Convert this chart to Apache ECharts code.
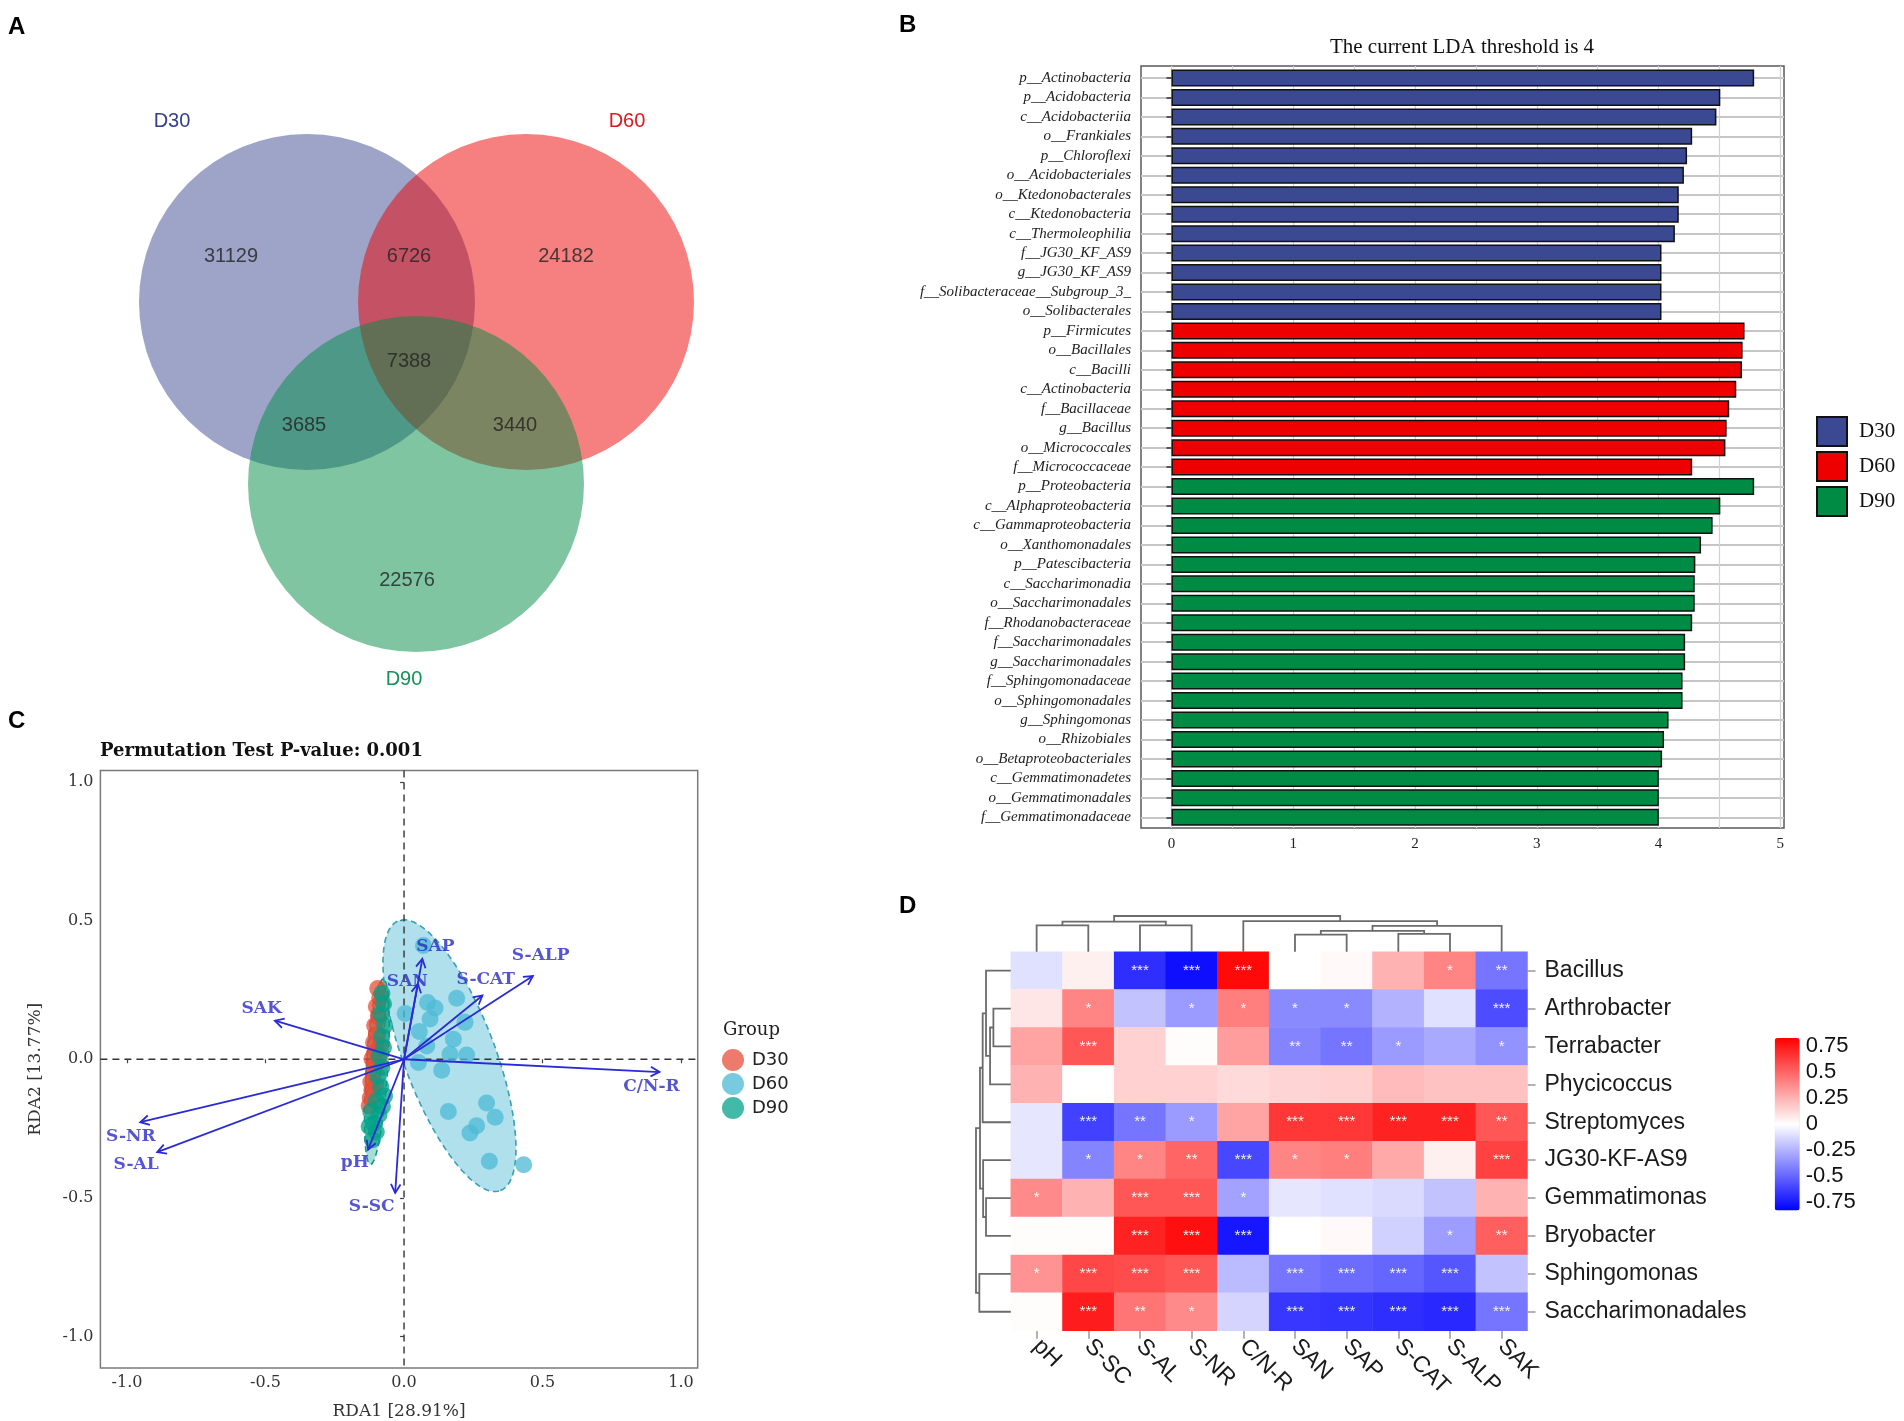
<!DOCTYPE html>
<html><head><meta charset="utf-8">
<script src="https://cdn.jsdelivr.net/npm/echarts@6/dist/echarts.min.js"></script>
<style>html,body{margin:0;padding:0;background:#fff}#main{width:1904px;height:1421px}</style>
</head><body><div id="main"></div>
<script>
// ================= DATA =================
// Panel A: Venn
const vennSets = ['D30', 'D60', 'D90'];
const vennCounts = [31129, 6726, 24182, 7388, 3685, 3440, 22576]; // D30 only, D30&D60, D60 only, all, D30&D90, D60&D90, D90 only

// Panel B: LEfSe
const ldaTaxa = ['p__Actinobacteria','p__Acidobacteria','c__Acidobacteriia','o__Frankiales','p__Chloroflexi','o__Acidobacteriales','o__Ktedonobacterales','c__Ktedonobacteria','c__Thermoleophilia','f__JG30_KF_AS9','g__JG30_KF_AS9','f__Solibacteraceae__Subgroup_3_','o__Solibacterales',
  'p__Firmicutes','o__Bacillales','c__Bacilli','c__Actinobacteria','f__Bacillaceae','g__Bacillus','o__Micrococcales','f__Micrococcaceae',
  'p__Proteobacteria','c__Alphaproteobacteria','c__Gammaproteobacteria','o__Xanthomonadales','p__Patescibacteria','c__Saccharimonadia','o__Saccharimonadales','f__Rhodanobacteraceae','f__Saccharimonadales','g__Saccharimonadales','f__Sphingomonadaceae','o__Sphingomonadales','g__Sphingomonas','o__Rhizobiales','o__Betaproteobacteriales','c__Gemmatimonadetes','o__Gemmatimonadales','f__Gemmatimonadaceae'];
const ldaGroup = ['D30','D30','D30','D30','D30','D30','D30','D30','D30','D30','D30','D30','D30',
  'D60','D60','D60','D60','D60','D60','D60','D60',
  'D90','D90','D90','D90','D90','D90','D90','D90','D90','D90','D90','D90','D90','D90','D90','D90','D90','D90'];
const ldaScore = [4.785,4.507,4.475,4.276,4.234,4.208,4.166,4.166,4.134,4.024,4.024,4.024,4.024,
  4.706,4.690,4.685,4.638,4.580,4.559,4.549,4.276,
  4.785,4.507,4.444,4.349,4.302,4.297,4.297,4.276,4.218,4.218,4.197,4.197,4.082,4.045,4.029,4.002,4.002,4.002];
const ldaTicks = [0, 1, 2, 3, 4, 5];

// Panel C: RDA
const rdaD30 = [[-0.095,0.255],[-0.088,0.222],[-0.100,0.190],[-0.092,0.152],[-0.106,0.122],[-0.096,0.090],[-0.110,0.060],[-0.100,0.030],[-0.116,0.002],[-0.104,-0.022],[-0.112,-0.052],[-0.120,-0.082],[-0.116,-0.112],[-0.122,-0.140],[-0.126,-0.168],[-0.090,0.004],[-0.086,0.050],[-0.102,-0.090]];
const rdaD60 = [[0.070,0.410],[0.085,0.205],[0.112,0.185],[0.190,0.220],[0.004,0.165],[0.094,0.145],[0.220,0.133],[0.055,0.100],[0.178,0.072],[0.082,0.048],[0.166,0.018],[0.226,0.015],[0.052,-0.012],[0.136,-0.040],[0.160,-0.188],[0.298,-0.158],[0.329,-0.209],[0.262,-0.240],[0.238,-0.266],[0.308,-0.368],[0.432,-0.380]];
const rdaD90 = [[-0.080,0.238],[-0.074,0.200],[-0.084,0.162],[-0.070,0.122],[-0.080,0.082],[-0.074,0.042],[-0.090,0.012],[-0.080,-0.030],[-0.094,-0.062],[-0.084,-0.100],[-0.070,-0.132],[-0.100,-0.150],[-0.120,-0.188],[-0.090,-0.200],[-0.110,-0.232],[-0.126,-0.242],[-0.100,-0.262],[-0.114,-0.290],[-0.078,-0.170]];
// confidence ellipses: [cx, cy, semi-major, semi-minor, angle deg]
const ellD30 = [-0.103, 0.052, 0.225, 0.028, 85];
const ellD60 = [0.164, 0.013, 0.52, 0.165, -69.3];
const ellD90 = [-0.098, -0.045, 0.335, 0.038, 86];
const envNames = ['SAK','S-NR','S-AL','pH','S-SC','C/N-R','S-ALP','S-CAT','SAP','SAN'];
const envVectors = [[-0.466,0.139],[-0.952,-0.227],[-0.891,-0.335],[-0.130,-0.326],[-0.032,-0.482],[0.922,-0.046],[0.465,0.300],[0.283,0.230],[0.066,0.362],[0.050,0.272]];
const rdaTicks = [-1, -0.5, 0, 0.5, 1];

// Panel D: correlation heatmap
const heatCols = ['pH','S-SC','S-AL','S-NR','C/N-R','SAN','SAP','S-CAT','S-ALP','SAK'];
const heatRows = ['Bacillus','Arthrobacter','Terrabacter','Phycicoccus','Streptomyces','JG30-KF-AS9','Gemmatimonas','Bryobacter','Sphingomonas','Saccharimonadales'];
const heatValues = [
  [-0.10, 0.05, -0.68, -0.78, 0.80, 0.00, 0.02, 0.25, 0.40, -0.45],
  [0.08, 0.40, -0.20, -0.33, 0.42, -0.38, -0.38, -0.25, -0.10, -0.58],
  [0.30, 0.55, 0.15, 0.01, 0.32, -0.40, -0.45, -0.33, -0.28, -0.35],
  [0.25, 0.00, 0.15, 0.15, 0.12, 0.14, 0.15, 0.22, 0.20, 0.20],
  [-0.08, -0.62, -0.45, -0.33, 0.30, 0.65, 0.65, 0.72, 0.72, 0.55],
  [-0.08, -0.40, 0.40, 0.50, -0.60, 0.40, 0.42, 0.28, 0.05, 0.62],
  [0.38, 0.25, 0.55, 0.55, -0.30, -0.08, -0.10, -0.12, -0.20, 0.25],
  [0.01, 0.01, 0.72, 0.78, -0.76, 0.00, 0.02, -0.15, -0.32, 0.52],
  [0.35, 0.60, 0.58, 0.55, -0.22, -0.45, -0.48, -0.50, -0.55, -0.20],
  [0.01, 0.74, 0.45, 0.38, -0.14, -0.65, -0.66, -0.68, -0.70, -0.45]
];
const heatStars = [
  ['', '', '***', '***', '***', '', '', '', '*', '**'],
  ['', '*', '', '*', '*', '*', '*', '', '', '***'],
  ['', '***', '', '', '', '**', '**', '*', '', '*'],
  ['', '', '', '', '', '', '', '', '', ''],
  ['', '***', '**', '*', '', '***', '***', '***', '***', '**'],
  ['', '*', '*', '**', '***', '*', '*', '', '', '***'],
  ['*', '', '***', '***', '*', '', '', '', '', ''],
  ['', '', '***', '***', '***', '', '', '', '*', '**'],
  ['*', '***', '***', '***', '', '***', '***', '***', '***', ''],
  ['', '***', '**', '*', '', '***', '***', '***', '***', '***']
];
// dendrogram merges: [nodeA, nodeB, height]; leaves 0..9, merged nodes numbered 10,11,...
const colMerges = [[0,1,0.736],[2,3,0.736],[10,11,0.840],[5,6,0.481],[7,8,0.500],[13,14,0.585],[15,9,0.726],[4,16,0.858],[12,17,1.0]];
const rowMerges = [[1,2,0.50],[10,3,0.596],[0,11,0.712],[12,4,0.808],[6,7,0.712],[5,14,0.795],[13,15,0.885],[8,9,0.904],[16,17,1.0]];
const colorbarTicks = [0.75, 0.5, 0.25, 0, -0.25, -0.5, -0.75];

// ================= LAYOUT (not data) =================
const vennLayout = [[307, 302, 168], [526, 302, 168], [416, 484, 168]];
const vennLabelPos = [[231, 256], [409, 256], [566, 256], [409, 361], [304, 425], [515, 425], [407, 580]];
const envLabelPos = [[-0.514,0.183],[-0.986,-0.277],[-0.967,-0.380],[-0.178,-0.373],[-0.117,-0.530],[0.893,-0.098],[0.493,0.372],[0.295,0.288],[0.113,0.408],[0.012,0.280]];

// ================= BUILD =================
const SERIF_T = "'Liberation Serif','Times New Roman',serif";
const SERIF_D = "'DejaVu Serif',serif";
const SANS = "'Liberation Sans',Arial,sans-serif";
const NARROW = "'Liberation Sans Narrow','Liberation Sans',Arial,sans-serif";

const groupColB = {D30: '#3B4992', D60: '#EE0000', D90: '#008B45'};
const vennFill = ['rgba(59,73,146,0.5)', 'rgba(238,0,0,0.5)', 'rgba(0,139,69,0.5)'];

function buildDendro(merges, nLeaves) {
  const pos = [], h = [];
  for (let i = 0; i < nLeaves; i++) { pos.push(i); h.push(0); }
  const items = [];
  merges.forEach(m => {
    const [a, b, hm] = m;
    items.push([pos[a], pos[b], h[a], h[b], hm]);
    pos.push((pos[a] + pos[b]) / 2); h.push(hm);
  });
  return items;
}
function dendroRender(leavesOnX) {
  return (params, api) => {
    const pl = api.value(0), pr = api.value(1), hl = api.value(2), hr = api.value(3), hm = api.value(4);
    const P = (p, hh) => leavesOnX ? api.coord([p, hh]) : api.coord([hh, p]);
    return {type: 'polyline', shape: {points: [P(pl, hl), P(pl, hm), P(pr, hm), P(pr, hr)]},
      style: {stroke: '#6b6b6b', lineWidth: 1.8, fill: null}};
  };
}
function ellipseRender(fill, stroke) {
  return (params, api) => {
    const cx = api.value(0), cy = api.value(1), a = api.value(2), b = api.value(3), th = api.value(4) * Math.PI / 180;
    const pts = [];
    for (let k = 0; k <= 120; k++) {
      const t = k / 120 * 2 * Math.PI;
      const x = cx + a * Math.cos(t) * Math.cos(th) - b * Math.sin(t) * Math.sin(th);
      const y = cy + a * Math.cos(t) * Math.sin(th) + b * Math.sin(t) * Math.cos(th);
      pts.push(api.coord([x, y]));
    }
    return {type: 'polygon', shape: {points: pts}, style: {fill: fill, stroke: stroke, lineWidth: 1.6, lineDash: [6, 4]}};
  };
}

const heatData = [];
heatValues.forEach((row, r) => row.forEach((v, c) => heatData.push([c, r, v])));

const grids = [
  {left: 0, top: 0, width: 900, height: 700, show: false},                 // 0 venn
  {left: 1141, top: 66, width: 643, height: 762, show: true, borderColor: '#5a5a5a', borderWidth: 1.5, backgroundColor: 'transparent'}, // 1 B frame
  {left: 1141, top: 78, width: 643, height: 739.3, show: false},          // 2 B bars
  {left: 100.4, top: 770.5, width: 597.3, height: 598.8, show: true, borderColor: '#7a7a7a', borderWidth: 1.5}, // 3 C
  {left: 1010.8, top: 951.7, width: 516.7, height: 379, show: false},     // 4 heatmap
  {left: 1010.8, top: 916, width: 516.7, height: 35.7, show: false},      // 5 col dendro
  {left: 976, top: 951.7, width: 34.8, height: 379, show: false},         // 6 row dendro
  {left: 1774.7, top: 1038, width: 25, height: 172.6, show: false}        // 7 colorbar axis
];

const isInt = v => Math.abs(v - Math.round(v)) < 1e-9;

const xAxes = [
  {gridIndex: 0, type: 'value', min: 0, max: 900, show: false},
  {gridIndex: 1, type: 'value', min: -0.25, max: 5.03, interval: 0.25,
    axisLine: {show: false}, axisTick: {show: false},
    axisLabel: {formatter: v => (isInt(v) && ldaTicks.indexOf(Math.round(v)) >= 0) ? String(Math.round(v)) : '', fontFamily: SERIF_T, fontSize: 15, color: '#222', margin: 9, showMinLabel: true, showMaxLabel: true},
    splitLine: {show: true, lineStyle: {color: ['rgba(0,0,0,0)', '#d2d2d2'], width: 1.2}}},
  {gridIndex: 2, type: 'value', min: -0.25, max: 5.03, show: false},
  {gridIndex: 3, type: 'value', min: -1.096, max: 1.060,
    axisLine: {show: false},
    axisTick: {show: true, customValues: rdaTicks, length: 4, lineStyle: {color: '#444', width: 1.2}},
    axisLabel: {customValues: rdaTicks, formatter: v => Number(v).toFixed(1), fontFamily: SERIF_D, fontSize: 16, color: '#333', margin: 7},
    splitLine: {show: false},
    name: 'RDA1 [28.91%]', nameLocation: 'middle', nameGap: 35, nameTextStyle: {fontFamily: SERIF_D, fontSize: 17, color: '#333'}},
  {gridIndex: 4, type: 'category', data: heatCols, position: 'bottom',
    axisLine: {show: false}, axisTick: {show: true, alignWithLabel: true, length: 8, lineStyle: {color: '#999', width: 1.5}},
    axisLabel: {rotate: -45, fontFamily: SANS, fontSize: 23, color: '#1a1a1a', margin: 12, interval: 0},
    splitLine: {show: false}},
  {gridIndex: 5, type: 'value', min: -0.5, max: 9.5, show: false},
  {gridIndex: 6, type: 'value', min: 0, max: 1, inverse: true, show: false},
  {gridIndex: 7, type: 'value', min: 0, max: 1, show: false}
];
const yAxes = [
  {gridIndex: 0, type: 'value', min: 0, max: 700, inverse: true, show: false},
  {gridIndex: 1, type: 'value', min: 0, max: 1, show: false},
  {gridIndex: 2, type: 'category', data: ldaTaxa, inverse: true, boundaryGap: false,
    axisLine: {show: false},
    axisTick: {show: true, length: 5, lineStyle: {color: '#333', width: 1.5}},
    axisLabel: {interval: 0, fontFamily: SERIF_T, fontStyle: 'italic', fontSize: 15, color: '#222', margin: 10},
    splitLine: {show: true, lineStyle: {color: '#c6c6c6', width: 2.2}}},
  {gridIndex: 3, type: 'value', min: -1.113, max: 1.041,
    axisLine: {show: false},
    axisTick: {show: true, customValues: rdaTicks, length: 4, lineStyle: {color: '#444', width: 1.2}},
    axisLabel: {customValues: rdaTicks, formatter: v => Number(v).toFixed(1), fontFamily: SERIF_D, fontSize: 16, color: '#333', margin: 7},
    splitLine: {show: false},
    name: 'RDA2 [13.77%]', nameLocation: 'middle', nameGap: 56, nameTextStyle: {fontFamily: SERIF_D, fontSize: 17, color: '#333'}},
  {gridIndex: 4, type: 'category', data: heatRows, inverse: true, position: 'right',
    axisLine: {show: false}, axisTick: {show: true, alignWithLabel: true, length: 8, lineStyle: {color: '#999', width: 1.5}},
    axisLabel: {fontFamily: SANS, fontSize: 23, color: '#1a1a1a', margin: 17, interval: 0},
    splitLine: {show: false}},
  {gridIndex: 5, type: 'value', min: 0, max: 1, show: false},
  {gridIndex: 6, type: 'value', min: -0.5, max: 9.5, inverse: true, show: false},
  {gridIndex: 7, type: 'value', min: -0.83, max: 0.83, position: 'right',
    axisLine: {show: false},
    axisTick: {show: true, inside: true, customValues: colorbarTicks, length: 5, lineStyle: {color: '#ffffff', width: 1.5}},
    axisLabel: {customValues: colorbarTicks, formatter: v => String(v), fontFamily: SANS, fontSize: 22, color: '#111', margin: 6},
    splitLine: {show: false}}
];

const series = [];
// --- A: Venn circles
series.push({type: 'custom', name: 'venn', xAxisIndex: 0, yAxisIndex: 0, silent: true,
  data: vennLayout,
  renderItem: (params, api) => {
    const c = api.coord([api.value(0), api.value(1)]);
    const r = api.size([api.value(2), 0])[0];
    return {type: 'circle', shape: {cx: c[0], cy: c[1], r: r}, style: {fill: vennFill[params.dataIndex]}};
  }});
series.push({type: 'scatter', name: 'vennCounts', xAxisIndex: 0, yAxisIndex: 0, silent: true, symbolSize: 0, z: 5,
  data: vennLabelPos.map((p, i) => ({value: p, name: String(vennCounts[i])})),
  label: {show: true, position: 'inside', formatter: '{b}', fontFamily: NARROW, fontSize: 20, color: '#222'}});
// --- B: LDA bars
['D30', 'D60', 'D90'].forEach(g => {
  series.push({type: 'bar', name: g, xAxisIndex: 2, yAxisIndex: 2, stack: 'lda', barWidth: 17, clip: false,
    itemStyle: {color: groupColB[g], borderColor: '#111', borderWidth: 1.5},
    data: ldaScore.map((v, i) => ldaGroup[i] === g ? v : '-')});
});
// --- C: ellipses
const ellSpecs = [[ellD30, 'rgba(230,75,53,0.35)', '#D9503C'], [ellD60, 'rgba(77,187,213,0.45)', '#3a9fb8'], [ellD90, 'rgba(0,160,135,0.35)', '#109980']];
ellSpecs.forEach((e, i) => {
  series.push({type: 'custom', name: 'ellipse' + i, xAxisIndex: 3, yAxisIndex: 3, silent: true, z: 1,
    data: [e[0]], renderItem: ellipseRender(e[1], e[2])});
});
// zero reference lines
series.push({type: 'custom', name: 'zeroLines', xAxisIndex: 3, yAxisIndex: 3, silent: true, z: 1,
  data: [[0, 0]],
  renderItem: (params, api) => {
    const cs = params.coordSys; const o = api.coord([api.value(0), api.value(1)]);
    const st = {stroke: '#333', lineWidth: 1.4, lineDash: [7, 5]};
    return {type: 'group', children: [
      {type: 'line', shape: {x1: o[0], y1: cs.y, x2: o[0], y2: cs.y + cs.height}, style: st},
      {type: 'line', shape: {x1: cs.x, y1: o[1], x2: cs.x + cs.width, y2: o[1]}, style: st}
    ]};
  }});
// points
[['C_D30', rdaD30, 'rgba(230,75,53,0.92)'], ['C_D60', rdaD60, 'rgba(77,187,213,0.95)'], ['C_D90', rdaD90, 'rgba(0,160,135,0.92)']].forEach(s => {
  series.push({type: 'scatter', name: s[0], xAxisIndex: 3, yAxisIndex: 3, symbolSize: 17, z: 3,
    itemStyle: {color: s[2]}, data: s[1]});
});
// arrows
series.push({type: 'custom', name: 'envArrows', xAxisIndex: 3, yAxisIndex: 3, silent: true, z: 8,
  data: envVectors,
  renderItem: (params, api) => {
    const p0 = api.coord([0, 0]); const p1 = api.coord([api.value(0), api.value(1)]);
    const ang = Math.atan2(p1[1] - p0[1], p1[0] - p0[0]); const L = 10, sp = 0.5;
    const h1 = [p1[0] - L * Math.cos(ang - sp), p1[1] - L * Math.sin(ang - sp)];
    const h2 = [p1[0] - L * Math.cos(ang + sp), p1[1] - L * Math.sin(ang + sp)];
    const st = {stroke: '#2a2ad6', lineWidth: 1.8, fill: null};
    return {type: 'group', children: [
      {type: 'line', shape: {x1: p0[0], y1: p0[1], x2: p1[0], y2: p1[1]}, style: st},
      {type: 'polyline', shape: {points: [h1, p1, h2]}, style: st}
    ]};
  }});
series.push({type: 'scatter', name: 'envLabels', xAxisIndex: 3, yAxisIndex: 3, silent: true, symbolSize: 0, z: 9,
  data: envLabelPos.map((p, i) => ({value: p, name: envNames[i]})),
  label: {show: true, position: 'inside', formatter: '{b}', fontFamily: SERIF_D, fontWeight: 'bold', fontSize: 17, color: '#2b2bc4'}});
// --- D: heatmap
const heatIndex = series.length;
series.push({type: 'heatmap', name: 'corr', xAxisIndex: 4, yAxisIndex: 4, data: heatData,
  itemStyle: {borderWidth: 0},
  emphasis: {disabled: true},
  label: {show: true, formatter: p => heatStars[p.value[1]][p.value[0]], color: 'rgba(255,255,255,0.92)', fontSize: 15, fontFamily: SANS}});
series.push({type: 'custom', name: 'colDendro', xAxisIndex: 5, yAxisIndex: 5, silent: true,
  data: buildDendro(colMerges, heatCols.length), renderItem: dendroRender(true)});
series.push({type: 'custom', name: 'rowDendro', xAxisIndex: 6, yAxisIndex: 6, silent: true,
  data: buildDendro(rowMerges, heatRows.length), renderItem: dendroRender(false)});

const txt = (x, y, text, font, fill, align, valign) => ({type: 'text', x: x, y: y, silent: true,
  style: {text: text, font: font, fill: fill, align: align || 'left', textAlign: align || 'left', verticalAlign: valign || 'middle', textVerticalAlign: valign || 'middle'}});

const option = {
  backgroundColor: '#ffffff',
  animation: false,
  grid: grids,
  xAxis: xAxes,
  yAxis: yAxes,
  visualMap: [{type: 'continuous', seriesIndex: heatIndex, dimension: 2, min: -0.83, max: 0.83, calculable: false,
    inRange: {color: ['#0000FF', '#FFFFFF', '#FF0000']}, orient: 'vertical', left: 1774.7, top: 1038,
    itemWidth: 25, itemHeight: 172.6, padding: 0, text: null, showLabel: false, hoverLink: false}],
  legend: [
    {data: ['D30', 'D60', 'D90'], orient: 'vertical', left: 1816, top: 416, padding: 0, itemWidth: 30, itemHeight: 29, itemGap: 4,
      icon: 'rect', selectedMode: false, itemStyle: {borderColor: '#111', borderWidth: 2},
      textStyle: {fontFamily: SERIF_T, fontSize: 21, color: '#111', padding: [0, 0, 0, 7]}},
    {data: ['C_D30', 'C_D60', 'C_D90'], orient: 'vertical', left: 722, top: 1049, padding: 0, itemWidth: 22, itemHeight: 22, itemGap: 2,
      icon: 'circle', selectedMode: false, formatter: n => n.replace('C_', ''),
      textStyle: {fontFamily: "'DejaVu Sans',sans-serif", fontSize: 18, color: '#222', padding: [0, 0, 0, 3]}}
  ],
  graphic: [
    txt(8, 27, 'A', "bold 24px 'Liberation Sans',Arial,sans-serif", '#000'),
    txt(899, 25, 'B', "bold 24px 'Liberation Sans',Arial,sans-serif", '#000'),
    txt(8, 721, 'C', "bold 24px 'Liberation Sans',Arial,sans-serif", '#000'),
    txt(899, 906, 'D', "bold 24px 'Liberation Sans',Arial,sans-serif", '#000'),
    txt(172, 121, vennSets[0], "20px 'Liberation Sans Narrow','Liberation Sans',sans-serif", '#34408C', 'center'),
    txt(627, 121, vennSets[1], "20px 'Liberation Sans Narrow','Liberation Sans',sans-serif", '#E0171E', 'center'),
    txt(404, 679, vennSets[2], "20px 'Liberation Sans Narrow','Liberation Sans',sans-serif", '#139457', 'center'),
    txt(1462, 47, 'The current LDA threshold is 4', "21px 'Liberation Serif','Times New Roman',serif", '#111', 'center'),
    txt(100, 751, 'Permutation Test P-value: 0.001', "bold 18px 'DejaVu Serif',serif", '#111', 'left'),
    txt(723, 1030, 'Group', "18px 'DejaVu Serif',serif", '#222', 'left')
  ],
  series: series
};

const chart = echarts.init(document.getElementById('main'), null, {renderer: 'canvas', width: 1904, height: 1421});
chart.setOption(option);
</script></body></html>
